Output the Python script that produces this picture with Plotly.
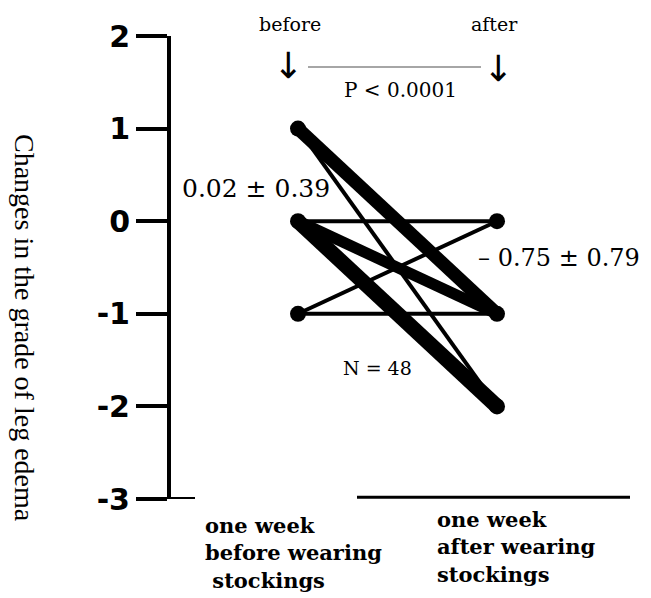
import plotly.graph_objects as go

# ---- data ----
grades = [2, 1, 0, -1, -2, -3]
grade_labels = ["2", "1", "0", "-1", "-2", "-3"]
before_grade = [1, 1, 0, 0, 0, -1, -1]
after_grade = [-1, -2, 0, -1, -2, 0, -1]
relative_count = [3.3, 1, 1, 2.8, 3.8, 1, 1]   # estimated from line thickness
time_points = [0, 1]
before_mean_txt = "0.02 ± 0.39"
after_mean_txt = "– 0.75 ± 0.79"

BLACK = "#000000"
SERIF = "DejaVu Serif"

# page pixel -> paper coordinates (plot area: x 171..659, y 36..499 on the page)
def px(xp):
    return (xp - 171) / 488.0

def py(yp):
    return (499 - yp) / 463.0

fig = go.Figure()

for b, a, c in zip(before_grade, after_grade, relative_count):
    fig.add_trace(go.Scatter(
        x=time_points, y=[b, a], mode="lines",
        line=dict(color=BLACK, width=4 * c),
        hoverinfo="skip", showlegend=False, cliponaxis=False))

pts_x = [0] * len(set(before_grade)) + [1] * len(set(after_grade))
pts_y = sorted(set(before_grade)) + sorted(set(after_grade))
fig.add_trace(go.Scatter(
    x=pts_x, y=pts_y, mode="markers",
    marker=dict(color=BLACK, size=16), showlegend=False, cliponaxis=False))

# axis extras
fig.add_shape(type="line", xref="paper", yref="y", x0=px(169), x1=px(195), y0=-3, y1=-3,
              line=dict(color=BLACK, width=4))
fig.add_shape(type="line", xref="paper", yref="y", x0=px(357), x1=px(630), y0=-2.98, y1=-2.98,
              line=dict(color=BLACK, width=3))
# p-value bracket
fig.add_shape(type="line", xref="paper", yref="paper", x0=px(308), x1=px(481), y0=py(67), y1=py(67),
              line=dict(color="#888888", width=1.5))

def txt(x, y, s, size, xanchor="center", bold=False, align="center", family=SERIF):
    fig.add_annotation(x=x, y=y, xref="paper", yref="paper", text=s, showarrow=False,
                       xanchor=xanchor, yanchor="middle", align=align,
                       font=dict(family=family, size=size, color=BLACK,
                                 weight="bold" if bold else "normal"))

txt(px(290), py(24), "before", 19)
txt(px(494), py(24), "after", 19)
txt(px(288), py(65), "↓", 36, family="DejaVu Sans")
txt(px(498), py(69), "↓", 36, family="DejaVu Sans")
txt(px(400), py(90), "P < 0.0001", 20)
txt(px(180), py(188), before_mean_txt, 25, xanchor="left")
txt(px(476), py(258), after_mean_txt, 24, xanchor="left")
txt(px(377), py(368), "N = 48", 19)
txt(px(203), py(553), "one week<br>before wearing<br>&nbsp;stockings", 21, xanchor="left",
    align="left", bold=True)
txt(px(435), py(547), "one week<br>after wearing<br>stockings", 21, xanchor="left",
    align="left", bold=True)

fig.add_annotation(x=px(24), y=py(328), xref="paper", yref="paper", xanchor="center",
                   yanchor="middle", text="Changes in the grade of leg edema", textangle=90,
                   showarrow=False, font=dict(family="Liberation Serif", size=28, color=BLACK))

fig.update_layout(
    width=651, height=598,
    margin=dict(l=163, r=0, t=28, b=107, pad=0),
    paper_bgcolor="white", plot_bgcolor="white",
    xaxis=dict(range=[-0.6382, 1.814], visible=False, fixedrange=True),
    yaxis=dict(range=[-3, 2], tickvals=grades, ticktext=grade_labels,
               showline=True, linewidth=4, linecolor=BLACK, showgrid=False, zeroline=False,
               ticks="outside", ticklen=31, tickwidth=4, tickcolor=BLACK,
               tickfont=dict(family="DejaVu Sans", size=30, color=BLACK, weight="bold"),
               ticklabelstandoff=0),
)

fig.write_html("out.html")
